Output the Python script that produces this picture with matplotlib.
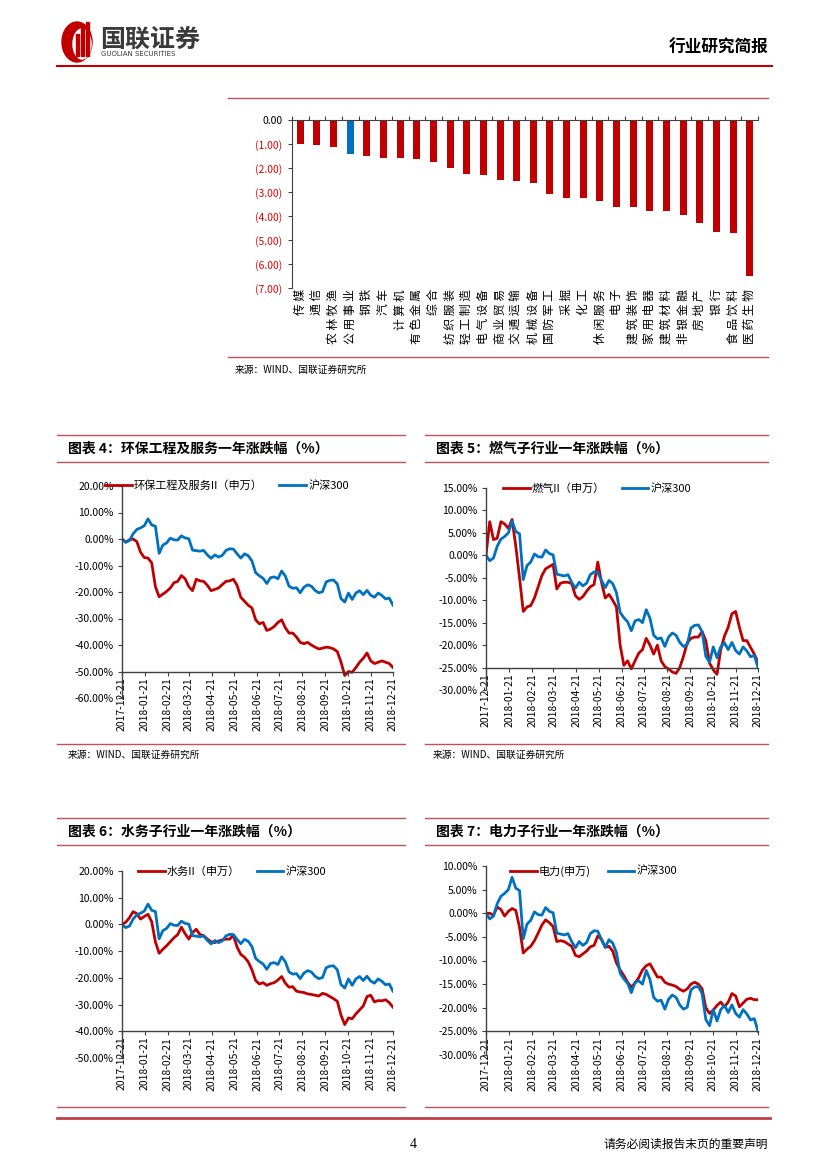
import numpy as np
import pandas as pd
import matplotlib
matplotlib.use('Agg')
import matplotlib.pyplot as plt
import matplotlib.dates as mdates
from matplotlib.lines import Line2D
from matplotlib.patches import Ellipse, Rectangle
from matplotlib.ticker import FuncFormatter, MultipleLocator

plt.rcParams['font.family'] = ['Noto Sans CJK SC', 'DejaVu Sans']

W, H = 827, 1169
RED = '#C00000'
BLUE = '#0070C0'
PINK = '#C0505A'
AXC = '#404040'

# ---- bar chart data (industry change, %) ----
industries = ['传媒', '通信', '农林牧渔', '公用事业', '钢铁', '汽车', '计算机', '有色金属',
              '综合', '纺织服装', '轻工制造', '电气设备', '商业贸易', '交通运输', '机械设备',
              '国防军工', '采掘', '化工', '休闲服务', '电子', '建筑装饰', '家用电器',
              '建筑材料', '非银金融', '房地产', '银行', '食品饮料', '医药生物']
ind_chg = [-0.99, -1.03, -1.14, -1.43, -1.50, -1.60, -1.58, -1.64, -1.77, -2.00,
           -2.25, -2.30, -2.50, -2.56, -2.63, -3.08, -3.24, -3.27, -3.36, -3.61,
           -3.64, -3.78, -3.80, -3.96, -4.29, -4.65, -4.70, -6.49]
highlight = '公用事业'

# ---- line charts: one sample every 5 days ----
dates = pd.date_range('2017-12-21', '2018-12-21', freq='5D')
month_ticks = pd.date_range('2017-12-21', '2018-12-21', freq=pd.DateOffset(months=1))

hs300 = [0.0, -1.2, -0.6, 2.0, 3.6, 4.2, 5.0, 7.6, 5.3, 4.8,
         -5.4, -2.3, -1.5, 0.3, -0.3, -0.4, 1.2, 0.4, 0.1, -4.2,
         -4.4, -4.6, -4.3, -6.0, -7.3, -6.0, -6.8, -6.2, -4.3, -3.7,
         -3.8, -5.6, -7.2, -5.6, -6.3, -8.3, -12.7, -13.9, -14.8, -16.8,
         -14.6, -14.3, -15.0, -12.1, -14.0, -17.8, -18.6, -18.4, -20.3, -18.2,
         -17.3, -17.8, -19.4, -20.3, -19.9, -16.2, -15.6, -15.5, -17.0, -22.5,
         -23.8, -20.4, -22.8, -20.4, -19.5, -21.0, -19.4, -21.2, -22.0, -20.4,
         -21.3, -22.6, -22.3, -25.0]

huanbao = [0.0, -1.2, -0.3, 0.0, -1.0, -5.0, -7.0, -7.2, -9.0, -18.0,
           -21.8, -20.8, -19.8, -18.5, -16.5, -16.0, -13.8, -15.0, -18.0, -19.5,
           -15.2, -15.8, -16.0, -17.5, -19.5, -19.0, -18.5, -17.2, -16.0, -15.8,
           -15.2, -17.5, -22.0, -23.5, -25.0, -26.0, -30.5, -32.0, -31.5, -34.5,
           -34.0, -33.0, -31.5, -30.5, -33.5, -35.5, -35.5, -37.0, -39.0, -39.5,
           -39.0, -40.0, -40.8, -41.5, -41.2, -40.8, -41.0, -41.5, -42.5, -46.5,
           -51.5, -50.0, -50.3, -48.5, -46.5, -45.0, -43.0, -46.0, -47.0, -46.5,
           -46.0, -46.5, -47.0, -48.5]

ranqi = [0.0, 7.5, 3.5, 3.8, 7.5, 7.0, 6.0, 8.0, 2.0, -5.0,
         -12.5, -11.5, -11.2, -9.5, -7.0, -4.5, -3.0, -2.5, -2.0, -7.5,
         -6.2, -6.0, -6.0, -6.3, -9.0, -9.8, -9.2, -8.0, -7.0, -6.5,
         -1.5, -6.0, -9.5, -8.7, -10.0, -11.5, -20.0, -24.5, -23.5, -25.3,
         -23.5, -21.8, -21.0, -18.5, -20.0, -22.0, -20.0, -23.5, -24.8, -25.3,
         -26.0, -26.3, -25.0, -22.5, -19.5, -18.5, -18.2, -18.2, -17.0, -19.0,
         -24.0, -25.5, -26.5, -21.0, -18.0, -16.0, -13.0, -12.5, -16.0, -19.0,
         -19.0, -20.5, -22.0, -23.8]

shuiwu = [0.0, 0.8, 2.5, 4.8, 4.0, 2.0, 3.0, 3.8, 1.0, -6.5,
          -10.8, -9.3, -8.0, -6.5, -5.0, -3.8, -1.0, -3.5, -5.5, -3.0,
          -1.8, -3.8, -4.2, -5.5, -6.5, -6.8, -6.2, -5.8, -5.5, -5.5,
          -4.0, -8.5, -11.2, -12.3, -14.0, -17.0, -21.0, -22.3, -21.8, -22.8,
          -22.2, -21.8, -20.8, -19.5, -22.0, -23.5, -23.3, -25.0, -25.3, -25.5,
          -26.0, -26.2, -26.5, -26.8, -25.8, -26.2, -27.0, -27.8, -28.8, -34.0,
          -37.5, -35.0, -35.3, -33.5, -32.0, -30.5, -27.0, -26.5, -29.0, -28.5,
          -28.6, -28.2, -29.3, -31.0]

dianli = [0.0, 0.0, -0.4, 1.3, 0.8, -0.6, 0.4, 1.0, 0.6, -3.0,
          -8.4, -7.6, -7.0, -5.8, -4.2, -2.5, -1.4, -2.0, -2.8, -6.0,
          -5.8, -6.0, -6.5, -7.0, -8.9, -9.2, -8.6, -8.0, -7.1, -6.8,
          -4.8, -5.5, -7.2, -7.0, -8.0, -10.5, -12.0, -13.2, -14.6, -15.6,
          -14.8, -13.6, -12.0, -11.1, -10.7, -12.1, -13.5, -13.5, -14.6, -15.0,
          -15.2, -15.5, -16.1, -16.5, -16.0, -15.0, -14.6, -15.0, -16.0, -20.0,
          -21.2, -20.5, -19.5, -18.8, -19.8, -18.8, -17.0, -17.5, -19.8, -19.0,
          -18.2, -18.0, -18.3, -18.3]


def fx(x):
    return x / W


def fy(y):
    return 1 - y / H


def rect(l, t, r, b):
    return [l / W, 1 - b / H, (r - l) / W, (b - t) / H]


def hline(fig, y, x0, x1, color=PINK, lw=1.0):
    fig.add_artist(Line2D([fx(x0), fx(x1)], [fy(y), fy(y)], color=color, lw=lw,
                          transform=fig.transFigure))


def text(fig, x, y, s, **kw):
    fig.text(fx(x), fy(y), s, transform=fig.transFigure, **kw)


fig = plt.figure(figsize=(W / 100, H / 100), dpi=100)

# ---- header ----
fig.add_artist(Ellipse((fx(77), fy(42)), 30 / W, 40 / H, color=RED, transform=fig.transFigure))
fig.add_artist(Ellipse((fx(82), fy(44)), 18 / W, 30 / H, color='white', transform=fig.transFigure))
for bx, bt in [(76, 34), (81, 28), (86, 22)]:
    fig.add_artist(Rectangle((fx(bx), fy(56)), 3 / W, (56 - bt) / H, color=RED,
                             transform=fig.transFigure))
text(fig, 100, 40, '国联证券', fontsize=18, fontweight='bold', color='#3A3A3A', va='center')
text(fig, 101, 54, 'GUOLIAN SECURITIES', fontsize=5, color='#3A3A3A', va='center',
     family='DejaVu Sans')
text(fig, 768, 48, '行业研究简报', fontsize=12, fontweight='bold', ha='right', va='center')
hline(fig, 66, 57, 772, color=RED, lw=1.5)

# ---- bar chart ----
hline(fig, 98, 228, 768)
hline(fig, 357, 228, 768)
ax = fig.add_axes(rect(292, 120, 758, 288))
x = np.arange(len(industries))
colors = [BLUE if n == highlight else RED for n in industries]
ax.bar(x, ind_chg, width=0.42, color=colors)
ax.set_xlim(-0.5, len(industries) - 0.5)
ax.set_ylim(-7, 0)
for s in ['right', 'bottom']:
    ax.spines[s].set_visible(False)
for s in ['top', 'left']:
    ax.spines[s].set_color(AXC)
    ax.spines[s].set_linewidth(0.8)
ax.xaxis.set_ticks_position('top')
ax.set_xticks(np.arange(-0.5, len(industries), 1))
ax.tick_params(axis='x', direction='out', length=3, labeltop=False, labelbottom=False,
               color=AXC)
yt = list(range(0, -8, -1))
ax.set_yticks(yt)
ax.set_yticklabels(['0.00' if v == 0 else f'({-v:.2f})' for v in yt])
ax.tick_params(axis='y', direction='out', length=3, labelsize=7.5, color=AXC, pad=4)
for lbl, v in zip(ax.get_yticklabels(), yt):
    lbl.set_color('black' if v == 0 else '#E00000')
for i, n in enumerate(industries):
    ax.text(i, -7.05, ' '.join(n), rotation=90, ha='center', va='top', fontsize=8.5)
text(fig, 235, 370, '来源：WIND、国联证券研究所', fontsize=7, va='center')


# ---- line charts ----
def panel(top, title, x0, x1):
    hline(fig, top, x0, x1)
    text(fig, x0 + 11, top + 14, title, fontsize=10, fontweight='bold', va='center')
    hline(fig, top + 27, x0, x1)


def line_chart(r, series, name, ylo, yhi, step, base, leg_xy, colsp):
    a = fig.add_axes(rect(*r))
    a.plot(dates, series, color=RED, lw=2.0, label=name)
    a.plot(dates, hs300, color=BLUE, lw=2.0, label='沪深300')
    a.set_xlim(dates[0], dates[-1])
    a.set_ylim(ylo, yhi)
    a.spines['top'].set_visible(False)
    a.spines['right'].set_visible(False)
    a.spines['bottom'].set_position(('data', base))
    for s in ['left', 'bottom']:
        a.spines[s].set_color(AXC)
        a.spines[s].set_linewidth(1.0)
    a.yaxis.set_major_locator(MultipleLocator(step))
    a.yaxis.set_major_formatter(FuncFormatter(lambda v, p: f'{v:.2f}%'))
    a.set_xticks(month_ticks)
    a.xaxis.set_major_formatter(mdates.DateFormatter('%Y-%m-%d'))
    a.tick_params(axis='x', direction='out', length=3, labelsize=7.5, rotation=90,
                  color=AXC, pad=1)
    a.tick_params(axis='y', direction='out', length=3, labelsize=7.5, color=AXC, pad=3)
    a.legend(loc='center left', bbox_to_anchor=(fx(leg_xy[0]), fy(leg_xy[1])),
             bbox_transform=fig.transFigure, ncol=2, frameon=False, fontsize=8,
             handlelength=2.4, handletextpad=0.2, columnspacing=colsp,
             borderpad=0, borderaxespad=0)
    return a


panel(435, '图表 4：环保工程及服务一年涨跌幅（%）', 57, 405)
line_chart((122, 486, 393, 698), huanbao, '环保工程及服务II（申万）', -60, 20, 10, -50,
           (105, 486), 1.5)
hline(fig, 744, 57, 405)
text(fig, 68, 755, '来源：WIND、国联证券研究所', fontsize=7, va='center')

panel(435, '图表 5：燃气子行业一年涨跌幅（%）', 425, 768)
line_chart((486, 488, 758, 690), ranqi, '燃气II（申万）', -30, 15, 5, -25,
           (503, 489), 1.5)
hline(fig, 744, 425, 768)
text(fig, 433, 755, '来源：WIND、国联证券研究所', fontsize=7, va='center')

panel(818, '图表 6：水务子行业一年涨跌幅（%）', 57, 405)
line_chart((122, 871, 393, 1058), shuiwu, '水务II（申万）', -50, 20, 10, -40,
           (138, 872), 1.5)
hline(fig, 1107, 57, 405)

panel(818, '图表 7：电力子行业一年涨跌幅（%）', 425, 768)
line_chart((486, 866, 758, 1055), dianli, '电力(申万)', -30, 10, 5, -25,
           (510, 871), 1.5)
hline(fig, 1107, 425, 768)

# ---- footer ----
hline(fig, 1118, 57, 770, color='#C0404A', lw=2.0)
text(fig, 413, 1144, '4', fontsize=10, ha='center', va='center', family='Liberation Serif')
text(fig, 768, 1144, '请务必阅读报告末页的重要声明', fontsize=8.5, ha='right', va='center')

fig.savefig('out.png', dpi=100)
